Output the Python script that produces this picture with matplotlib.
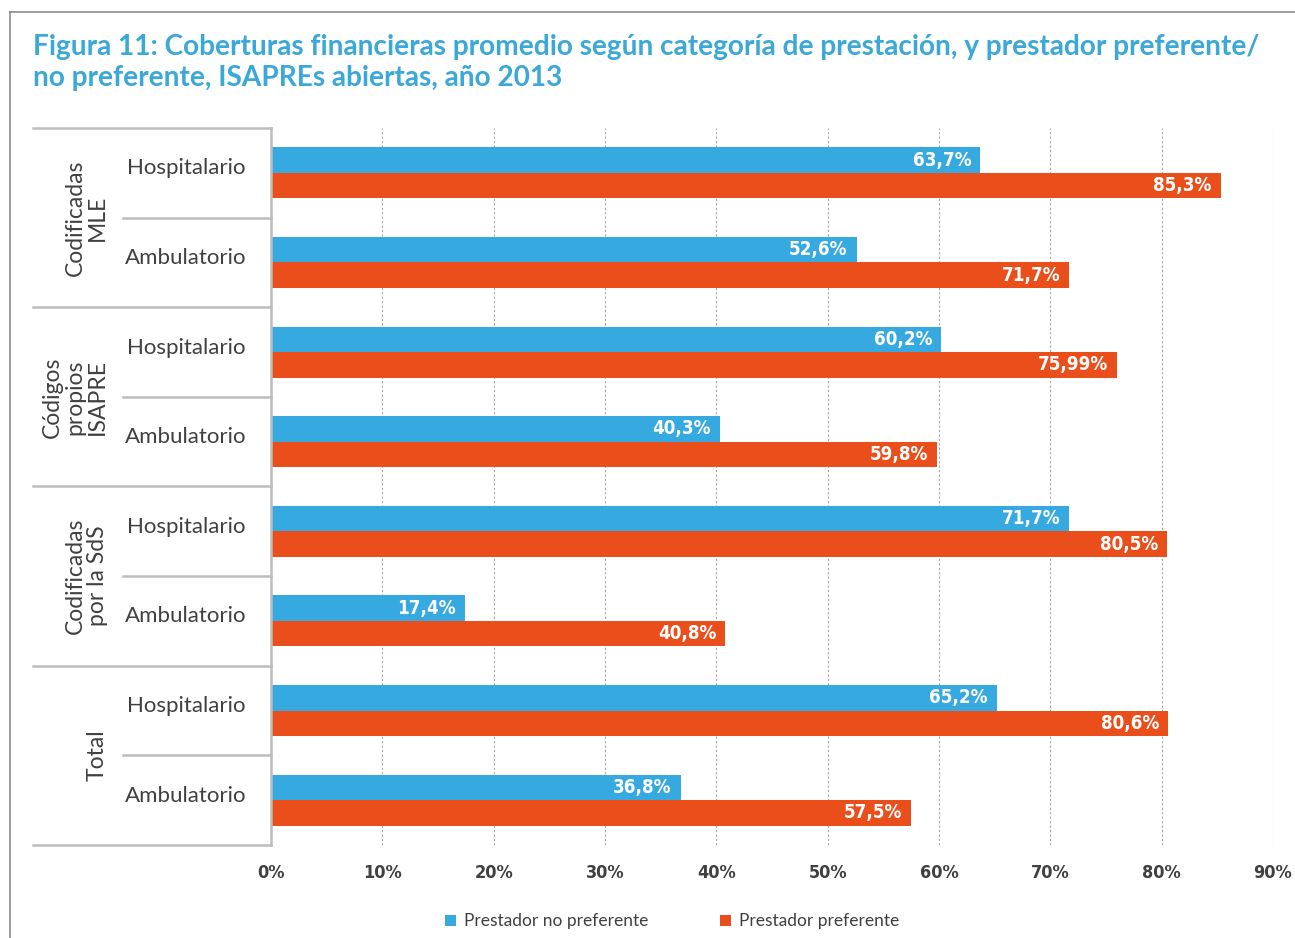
import matplotlib
matplotlib.use("Agg")
import matplotlib.pyplot as plt
import matplotlib.transforms as mtransforms
from matplotlib.patches import Rectangle
from matplotlib.lines import Line2D

# ---- data ----
groups = ["Codificadas\nMLE", "Códigos\npropios\nISAPRE", "Codificadas\npor la SdS", "Total"]
subcats = ["Hospitalario", "Ambulatorio"]
no_pref = [63.7, 52.6, 60.2, 40.3, 71.7, 17.4, 65.2, 36.8]
pref = [85.3, 71.7, 75.99, 59.8, 80.5, 40.8, 80.6, 57.5]
no_pref_labels = ["63,7%", "52,6%", "60,2%", "40,3%", "71,7%", "17,4%", "65,2%", "36,8%"]
pref_labels = ["85,3%", "71,7%", "75,99%", "59,8%", "80,5%", "40,8%", "80,6%", "57,5%"]
xticks = [0, 10, 20, 30, 40, 50, 60, 70, 80, 90]
xtick_labels = ["0%", "10%", "20%", "30%", "40%", "50%", "60%", "70%", "80%", "90%"]
series_names = ["Prestador no preferente", "Prestador preferente"]
title_lines = ["Figura 11: Coberturas financieras promedio según categoría de prestación, y prestador preferente/",
               "no preferente, ISAPREs abiertas, año 2013"]

BLUE = "#36A9E1"
ORANGE = "#E94E1B"
TITLE_C = "#3AA8D8"
TXT = "#404040"
LINE = "#BDBDBD"
NARROW = ["DejaVu Sans"]
LIGHT = ["Lato", "DejaVu Sans"]

W, H = 1295, 938
fig = plt.figure(figsize=(W / 100, H / 100), dpi=100)

def fx(px):
    return px / W

def fy(py):
    return 1 - py / H

# outer frame (top and left)
fig.add_artist(Line2D([fx(10), 1.0], [fy(12), fy(12)], color="#8C8C8C", lw=1.2))
fig.add_artist(Line2D([fx(10), fx(10)], [fy(12), 0.0], color="#8C8C8C", lw=1.2))

# title
fig.text(fx(33), fy(55), title_lines[0], color=TITLE_C, fontsize=20.2, fontweight="bold",
         family=["Lato", "DejaVu Sans"], va="baseline", ha="left")
fig.text(fx(33), fy(86), title_lines[1], color=TITLE_C, fontsize=20.2, fontweight="bold",
         family=["Lato", "DejaVu Sans"], va="baseline", ha="left")

ax = fig.add_axes([fx(271), fy(845), fx(1273) - fx(271), (845 - 128) / H])
n = len(no_pref)
centers = [i + 0.5 for i in range(n)]
bh = 0.285
ax.barh([c - bh / 2 for c in centers], no_pref, height=bh, color=BLUE, zorder=3)
ax.barh([c + bh / 2 for c in centers], pref, height=bh, color=ORANGE, zorder=3)
ax.set_xlim(0, 90)
ax.set_ylim(n, 0)

for c, v, lab in zip(centers, no_pref, no_pref_labels):
    ax.text(v - 0.8, c - bh / 2, lab, color="white", fontsize=13.5, fontweight="bold",
            family=NARROW, fontstretch="condensed", ha="right", va="center", zorder=4)
for c, v, lab in zip(centers, pref, pref_labels):
    ax.text(v - 0.8, c + bh / 2, lab, color="white", fontsize=13.5, fontweight="bold",
            family=NARROW, fontstretch="condensed", ha="right", va="center", zorder=4)

ax.set_xticks(xticks)
ax.set_xticklabels(xtick_labels, fontsize=13, fontweight="bold", color="#404040",
                   family=NARROW, fontstretch="condensed")
ax.tick_params(axis="x", length=0, pad=14)
ax.set_yticks([])
ax.grid(axis="x", color="#A6A6A6", linestyle=(0, (2, 2)), linewidth=0.8, zorder=0)
for s in ["top", "right", "bottom"]:
    ax.spines[s].set_visible(False)
ax.spines["left"].set_color(LINE)
ax.spines["left"].set_linewidth(1.8)
ax.spines["left"].set_zorder(5)

trans = mtransforms.blended_transform_factory(ax.transAxes, ax.transData)
x_group = (33 - 271) / 1002
x_sub = (123 - 271) / 1002
for b in range(0, n + 1, 2):
    ax.add_line(Line2D([x_group, 0], [b, b], transform=trans, color=LINE, lw=1.8, clip_on=False))
for b in range(1, n, 2):
    ax.add_line(Line2D([x_sub, 0], [b, b], transform=trans, color=LINE, lw=1.8, clip_on=False))

for i, c in enumerate(centers):
    ax.text(-0.025, c - 0.05, subcats[i % 2], transform=trans, fontsize=16, color=TXT,
            family=LIGHT, fontweight="normal", ha="right", va="center")

x_grp_lab = (108 - 271) / 1002
for g, name in enumerate(groups):
    ax.text(x_grp_lab, 2 * g + 1, name, transform=trans, rotation=90, fontsize=16.5, color=TXT,
            family=LIGHT, fontweight="normal", ha="right", va="center", multialignment="center",
            linespacing=1.08)

# legend
sq = 11
for px, col, name in [(445, BLUE, series_names[0]), (720, ORANGE, series_names[1])]:
    fig.add_artist(Rectangle((fx(px), fy(926)), fx(sq), sq / H, transform=fig.transFigure,
                             facecolor=col, edgecolor="none"))
    fig.text(fx(px + 19), fy(920.5), name, fontsize=12.5, color=TXT, family=LIGHT,
             fontweight="normal", ha="left", va="center")

fig.savefig("out.png", dpi=100, facecolor="white")
